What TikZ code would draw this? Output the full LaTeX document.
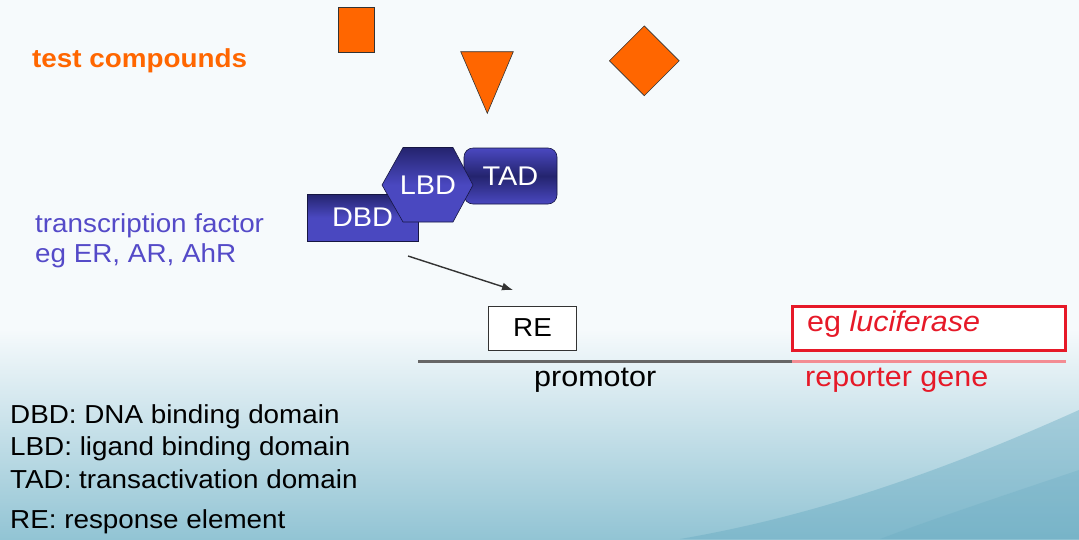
\documentclass[tikz,border=0pt]{standalone}
\usepackage{fontspec}
\setmainfont{Liberation Sans}[FakeStretch=1.07]
\usetikzlibrary{shapes.geometric,arrows.meta}

\definecolor{cmporange}{RGB}{255,102,0}
\definecolor{tfblue}{RGB}{84,74,200}
\definecolor{domdark}{RGB}{36,36,110}
\definecolor{domlight}{RGB}{74,72,192}
\definecolor{domline}{RGB}{22,22,66}
\definecolor{genered}{RGB}{230,25,40}
\definecolor{skytop}{RGB}{246,250,252}
\definecolor{skybot}{RGB}{146,196,212}
\definecolor{wave}{RGB}{100,168,192}

\newcommand{\txtsize}[1]{\fontsize{#1}{#1}\selectfont}

\begin{document}
\begin{tikzpicture}
	  [x=1pt,y=-1pt,every path/.style={>={Latex[length=11pt,width=8pt]}},every node/.style={inner sep=0pt},
	   cmp/.style={draw=black!80, fill=cmporange, line width=.6pt},
	   dombox/.style={draw=domline, line width=.6pt, text=white, font=\txtsize{27}},
	   lbl/.style={anchor=base west, font=\txtsize{26}},
	   rebox/.style={draw=black!80, fill=white, line width=.8pt, font=\txtsize{26}},
	   genebox/.style={draw=genered, fill=white, line width=3pt}]
	  \useasboundingbox (0,0) rectangle (1079,539);
	  % background
	  \fill[skytop] (0,0) rectangle (1079,330);
	  \shade[top color=skytop, bottom color=skybot] (0,329) rectangle (1079,539);
	  \fill[wave, opacity=.4] (1079,410) .. controls (950,468) and (820,515) .. (680,539) -- (1079,539) -- cycle;
	  \fill[wave, opacity=.25] (1079,470) .. controls (990,500) and (930,520) .. (880,539) -- (1079,539) -- cycle;

	  % test compounds
	  \node[lbl, text=cmporange, font=\txtsize{26}\bfseries] (tc) at (32,67) {test compounds};
	  \node[cmp, minimum width=36, minimum height=45] (sq) at (356,30) {};
	  \draw[cmp] (460.7,51.7) -- (513.3,51.7) -- (487.3,113.3) -- cycle;
	  \node[cmp, diamond, minimum width=70, minimum height=70] (dia) at (644.3,60.8) {};

	  % transcription factor
	  \node[lbl, text=tfblue] (tf1) at (35,232) {transcription factor};
	  \node[lbl, text=tfblue] (tf2) at (35,262) {eg ER, AR, AhR};
	  \node[dombox, rounded corners=9, minimum width=93, minimum height=56,
	    top color=domlight, bottom color=domlight, middle color=domdark] (tad) at (510.5,176) {TAD};
	  \node[dombox, minimum width=111, minimum height=47,
	    top color=domdark, bottom color=domlight, middle color=domlight] (dbd) at (362.5,217.5) {DBD};
	  \path[draw=domline, line width=.6pt, top color=domdark, bottom color=domlight, middle color=domlight]
	    (382,185) -- (403,147.5) -- (453,147.5) -- (473,185) -- (453,222) -- (403,222) -- cycle;
	  \node[dombox, draw=none] (lbd) at (428,185) {LBD};

	  \coordinate (bindS) at (408,256);
	  \coordinate (bindE) at (513,290);
	  \draw[->, line width=1.4pt, black!80] (bindS) -- (bindE);

	  % gene
	  \coordinate (dnaL) at (418,361.5);
	  \coordinate (dnaM) at (792,361.5);
	  \coordinate (dnaR) at (1066,361.5);
	  \draw[black!60, line width=2.4pt] (dnaL) -- (dnaM);
	  \draw[genered!50, line width=2.4pt] (dnaM) -- (dnaR);
	  \node[rebox, minimum width=88, minimum height=44] (re) at (532.5,328) {RE};
	  \node[genebox, minimum width=273, minimum height=44] (luc) at (928.5,328.5) {};
	  \node[lbl, text=genered, font=\txtsize{28.5}] (luctxt) at (807,331) {eg \textit{luciferase}};
	  \node[lbl, font=\txtsize{28.5}] (prom) at (534,386) {promotor};
	  \node[lbl, text=genered, font=\txtsize{28.5}] (rep) at (805,386) {reporter gene};

	  % key
	  \foreach \nm/\yy/\txt in {dbdkey/423/DBD: DNA binding domain,lbdkey/455/LBD: ligand binding domain,
	      tadkey/488/TAD: transactivation domain,rekey/528/RE: response element}
	    \node[lbl] (\nm) at (10,\yy) {\txt};
	\end{tikzpicture}
\end{document}
